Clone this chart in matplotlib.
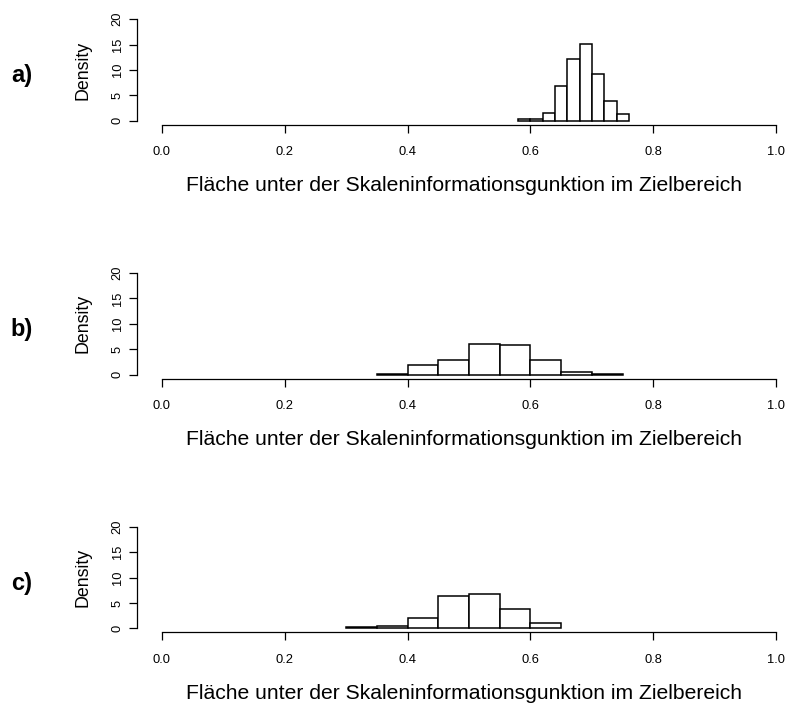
import numpy as np
import matplotlib
matplotlib.use("Agg")
import matplotlib.pyplot as plt

plt.rcParams['font.family'] = ['Liberation Sans', 'DejaVu Sans']

# Bin edges and densities of the three simulation runs
edges_a = [0.58, 0.60, 0.62, 0.64, 0.66, 0.68, 0.70, 0.72, 0.74, 0.76]
dens_a = [0.25, 0.3, 1.45, 6.8, 12.2, 15.2, 9.3, 3.95, 1.25]

edges_b = [0.35, 0.40, 0.45, 0.50, 0.55, 0.60, 0.65, 0.70, 0.75]
dens_b = [0.2, 1.95, 2.85, 6.0, 5.75, 2.85, 0.45, 0.2]

edges_c = [0.30, 0.35, 0.40, 0.45, 0.50, 0.55, 0.60, 0.65]
dens_c = [0.26, 0.52, 1.96, 6.34, 6.73, 3.86, 0.98]

panel_labels = ["a)", "b)", "c)"]
x_ticks = [0.0, 0.2, 0.4, 0.6, 0.8, 1.0]
x_tick_labels = ["0.0", "0.2", "0.4", "0.6", "0.8", "1.0"]
y_ticks = [0, 5, 10, 15, 20]
x_title = "Fläche unter der Skaleninformationsgunktion im Zielbereich"
y_title = "Density"

W, H = 787, 703
fig = plt.figure(figsize=(W / 100, H / 100), dpi=100)

panels = [(edges_a, dens_a), (edges_b, dens_b), (edges_c, dens_c)]
bottoms_px = [124.8, 378.6, 632.4]
left_px, right_px = 137.0, 801.0
width_px = right_px - left_px
height_px = 109.7

for (edges, dens), bot, lab in zip(panels, bottoms_px, panel_labels):
    ax = fig.add_axes([left_px / W, 1 - bot / H,
                       width_px / W, height_px / H])
    e = np.array(edges)
    ax.bar(e[:-1], dens, width=np.diff(e), align='edge',
           facecolor='white', edgecolor='black', linewidth=1.1)
    ax.set_xlim(-0.04, 1.04)
    ax.set_ylim(-0.8, 20.8)
    for s in ['top', 'right']:
        ax.spines[s].set_visible(False)
    ax.spines['left'].set_bounds(0, 20)
    ax.spines['bottom'].set_bounds(0, 1)
    for s in ['left', 'bottom']:
        ax.spines[s].set_linewidth(0.9)
    ax.set_xticks(x_ticks)
    ax.set_xticklabels(x_tick_labels, fontsize=9.3)
    ax.set_yticks(y_ticks)
    ax.set_yticklabels([str(v) for v in y_ticks], fontsize=9.3,
                       rotation=90, va='center')
    ax.tick_params(axis='x', length=5.5, width=0.9, pad=10)
    ax.tick_params(axis='y', length=5.5, width=0.9, pad=4)

    # axis titles placed at fixed pixel offsets from the plot region
    ax.set_xlabel(x_title, fontsize=15.2)
    ax.xaxis.set_label_coords((464 - left_px) / width_px,
                              -(62.2 + 8.5) / height_px)
    ax.xaxis.label.set_va('bottom')
    ax.set_ylabel(y_title, fontsize=12.8)
    ax.yaxis.set_label_coords(-(left_px - 83.5) / width_px, 0.5)
    ax.yaxis.label.set_va('center')
    ax.patch.set_visible(False)

    fig.text(22 / W, 1 - (bot - 49) / H, lab, fontsize=17,
             fontweight='bold', ha='center', va='center')

fig.savefig("out.png", dpi=100)
